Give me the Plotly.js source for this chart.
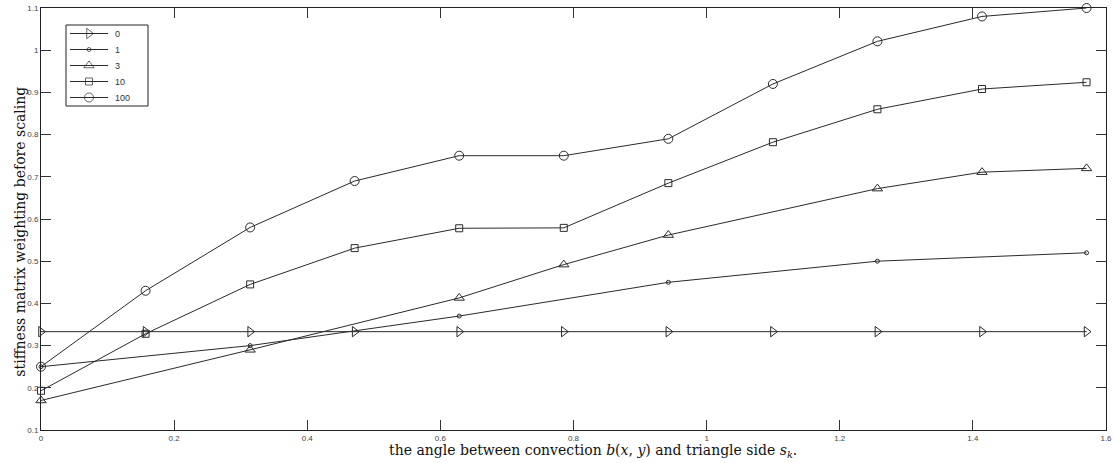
<!DOCTYPE html>
<html>
<head>
<meta charset="utf-8">
<script src="https://cdn.plot.ly/plotly-3.0.1.min.js"></script>
<style>
  html, body { margin: 0; padding: 0; background: #fff; }
  #chart { width: 1114px; height: 463px; }
</style>
</head>
<body>
<div id="chart"></div>
<script>
// Angle samples (multiples of pi/20) and weights for each convection magnitude
const angleAll = [0, 0.1571, 0.3142, 0.4712, 0.6283, 0.7854, 0.9425, 1.0996, 1.2566, 1.4137, 1.5708];
const w0 = [0.333, 0.333, 0.333, 0.333, 0.333, 0.333, 0.333, 0.333, 0.333, 0.333, 0.333];

const angle1 = [0, 0.3142, 0.6283, 0.9425, 1.2566, 1.5708];
const w1 = [0.25, 0.30, 0.37, 0.45, 0.50, 0.52];

const angle3 = [0, 0.3142, 0.6283, 0.7854, 0.9425, 1.2566, 1.4137, 1.5708];
const w3 = [0.17, 0.29, 0.413, 0.492, 0.562, 0.672, 0.711, 0.72];

const w10 = [0.193, 0.328, 0.445, 0.531, 0.578, 0.579, 0.685, 0.782, 0.86, 0.908, 0.924];
const w100 = [0.25, 0.43, 0.58, 0.69, 0.75, 0.75, 0.79, 0.92, 1.021, 1.08, 1.1];

const seriesNames = ['0', '1', '3', '10', '100'];
const xTicks = [0, 0.2, 0.4, 0.6, 0.8, 1, 1.2, 1.4, 1.6];
const xTickText = ['0', '0.2', '0.4', '0.6', '0.8', '1', '1.2', '1.4', '1.6'];
const yTicks = [0.1, 0.2, 0.3, 0.4, 0.5, 0.6, 0.7, 0.8, 0.9, 1, 1.1];
const yTickText = ['0.1', '0.2', '0.3', '0.4', '0.5', '0.6', '0.7', '0.8', '0.9', '1', '1.1'];

const ink = '#2a2a2a';
const lineStyle = { color: ink, width: 1 };
const symbols = ['triangle-right-open', 'circle-open', 'triangle-up-open', 'square-open', 'circle-open'];
const symSizes = [9, 4, 9, 7, 9];
function mk(i) {
  return { symbol: symbols[i], size: symSizes[i], color: ink, line: { color: ink, width: 1 } };
}

const xs = [angleAll, angle1, angle3, angleAll, angleAll];
const ys = [w0, w1, w3, w10, w100];

const traces = xs.map((x, i) => ({
  x: x, y: ys[i], name: seriesNames[i], mode: 'lines+markers', cliponaxis: false,
  line: lineStyle, marker: mk(i), showlegend: false, hoverinfo: 'skip'
}));

// Boxed key in the upper-left corner, laid out on an overlay axis measured in pixels
const key = { left: 25, top: 17, width: 82, height: 81, row0: 8.5, rowStep: 16, lineL: 4, lineR: 42, textX: 47 };
const annotations = [];
seriesNames.forEach((name, i) => {
  const ry = key.top + key.row0 + i * key.rowStep;
  traces.push({
    x: [key.left + key.lineL, key.left + (key.lineL + key.lineR) / 2, key.left + key.lineR],
    y: [ry, ry, ry],
    xaxis: 'x2', yaxis: 'y2', mode: 'lines+markers', showlegend: false, hoverinfo: 'skip',
    line: lineStyle,
    marker: { symbol: symbols[i], size: [0, symSizes[i], 0], color: ink, line: { color: ink, width: 1 } }
  });
  annotations.push({
    xref: 'x2', yref: 'y2', x: key.left + key.textX, y: ry, text: name, showarrow: false,
    xanchor: 'left', yanchor: 'middle',
    font: { family: 'Liberation Sans, Arial, sans-serif', size: 9, color: '#333' }
  });
});

const titleFont = { family: 'DejaVu Serif, Liberation Serif, serif', size: 14, color: '#111' };
annotations.push({
  xref: 'paper', yref: 'paper', x: 0.518, y: 0, yshift: -21, xanchor: 'center', yanchor: 'middle',
  showarrow: false, font: titleFont,
  text: 'the angle between convection <i>b</i>(<i>x</i>, <i>y</i>) and triangle side <i>s<sub>k</sub></i>.'
});
annotations.push({
  xref: 'paper', yref: 'paper', x: 0, xshift: -21, y: 0.47, xanchor: 'center', yanchor: 'middle',
  textangle: -90, showarrow: false, font: titleFont,
  text: 'stiffness matrix weighting before scaling'
});

const tickFont = { family: 'Liberation Sans, Arial, sans-serif', size: 8, color: '#444' };

const layout = {
  width: 1114,
  height: 463,
  margin: { l: 41, r: 8, t: 8, b: 33 },
  paper_bgcolor: '#fff',
  plot_bgcolor: '#fff',
  showlegend: false,
  xaxis: {
    range: [0, 1.6], tickvals: xTicks, ticktext: xTickText,
    ticks: 'inside', ticklen: 10, tickwidth: 1, tickcolor: '#333',
    showline: true, linecolor: '#222', linewidth: 1, mirror: 'ticks',
    showgrid: false, zeroline: false, tickfont: tickFont
  },
  yaxis: {
    range: [0.1, 1.1], tickvals: yTicks, ticktext: yTickText,
    ticks: 'inside', ticklen: 10, tickwidth: 1, tickcolor: '#333',
    showline: true, linecolor: '#222', linewidth: 1, mirror: 'ticks',
    showgrid: false, zeroline: false, tickfont: tickFont
  },
  xaxis2: { overlaying: 'x', range: [0, 1065], visible: false, fixedrange: true },
  yaxis2: { overlaying: 'y', range: [422, 0], visible: false, fixedrange: true },
  shapes: [{
    type: 'rect', xref: 'x2', yref: 'y2',
    x0: key.left, x1: key.left + key.width, y0: key.top, y1: key.top + key.height,
    line: { color: '#222', width: 1 }, fillcolor: '#fff', layer: 'below'
  }],
  annotations: annotations
};

Plotly.newPlot('chart', traces, layout, { displayModeBar: false, staticPlot: true });
</script>
</body>
</html>
